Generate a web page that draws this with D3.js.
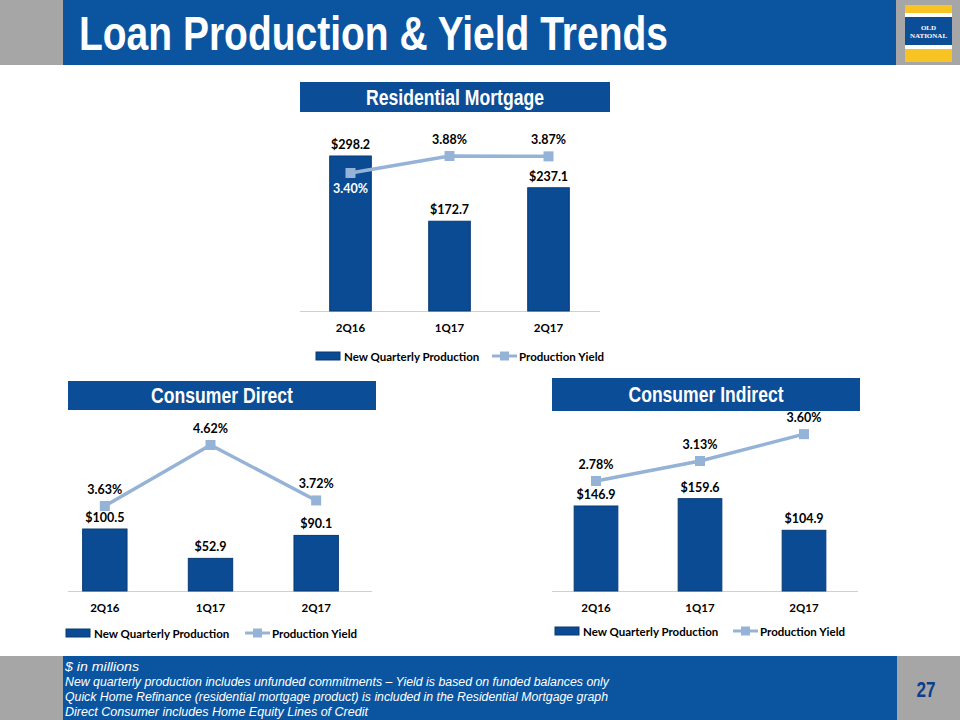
<!DOCTYPE html>
<html><head><meta charset="utf-8">
<script src="https://cdn.jsdelivr.net/npm/d3@7"></script>
<style>
html,body{margin:0;padding:0;background:#fff;}
svg{display:block;}
</style></head>
<body>
<svg id="chart" width="960" height="720"></svg>
<script>
// ---- data ----
const quarters = ["2Q16", "1Q17", "2Q17"];
const resProduction = [298.2, 172.7, 237.1];
const resYield = [3.40, 3.88, 3.87];
const directProduction = [100.5, 52.9, 90.1];
const directYield = [3.63, 4.62, 3.72];
const indirectProduction = [146.9, 159.6, 104.9];
const indirectYield = [2.78, 3.13, 3.60];
const panelTitles = ["Residential Mortgage", "Consumer Direct", "Consumer Indirect"];
const legendLabels = ["New Quarterly Production", "Production Yield"];
const pageTitle = "Loan Production & Yield Trends";
const footnotes = [
  "$ in millions",
  "New quarterly production includes unfunded commitments \u2013 Yield is based on funded balances only",
  "Quick Home Refinance (residential mortgage product) is included in the Residential Mortgage graph",
  "Direct Consumer includes Home Equity Lines of Credit"
];
const pageNumber = "27";

const svg = d3.select("#chart");
const BLUE = "#0b55a0", GRAY = "#a6a6a6", BAR = "#0a4b94", BARSTROKE = "#083a73", LINE = "#95b3d7";
const cond = "'Liberation Sans Narrow','Arial Narrow','Liberation Sans',Arial,sans-serif";
const lab = "Lato,'Open Sans',sans-serif";

// ---- header ----
svg.append("rect").attr("x",0).attr("y",0).attr("width",960).attr("height",65).attr("fill",GRAY);
svg.append("rect").attr("x",63).attr("y",0).attr("width",833).attr("height",65).attr("fill",BLUE);
svg.append("text").attr("x",79).attr("y",50).text(pageTitle)
  .attr("textLength",589).attr("lengthAdjust","spacingAndGlyphs")
  .attr("fill","#fff").attr("font-family",cond).attr("font-weight","bold").attr("font-size",48);
// logo
const lg = svg.append("g");
lg.append("rect").attr("x",905).attr("y",5).attr("width",47).attr("height",57).attr("fill","#f8c423");
lg.append("rect").attr("x",905).attr("y",13).attr("width",47).attr("height",4).attr("fill","#fff");
lg.append("rect").attr("x",905).attr("y",45).attr("width",47).attr("height",4).attr("fill","#fff");
lg.append("rect").attr("x",905).attr("y",17).attr("width",47).attr("height",28).attr("fill","#0b4d96");
lg.append("text").attr("x",928.5).attr("y",30).attr("text-anchor","middle").text("OLD")
  .attr("fill","#fff").attr("font-family","'Liberation Serif',serif").attr("font-size",7).attr("font-weight","bold");
lg.append("text").attr("x",928.5).attr("y",38).attr("text-anchor","middle").text("NATIONAL")
  .attr("fill","#fff").attr("font-family","'Liberation Serif',serif").attr("font-size",7).attr("font-weight","bold");

// ---- footer ----
svg.append("rect").attr("x",0).attr("y",656).attr("width",960).attr("height",64).attr("fill",GRAY);
svg.append("rect").attr("x",63).attr("y",656).attr("width",834).attr("height",64).attr("fill",BLUE);
const footW = [74, 544, 543, 303];
footnotes.forEach((t,i)=>{
  svg.append("text").attr("x",65).attr("y",671+i*15).text(t)
    .attr("textLength",footW[i]).attr("lengthAdjust","spacingAndGlyphs")
    .attr("fill","#fff").attr("font-family",cond).attr("font-style","italic").attr("font-size",12.5);
});
svg.append("text").attr("x",926).attr("y",697).attr("text-anchor","middle").text(pageNumber)
  .attr("textLength",19).attr("lengthAdjust","spacingAndGlyphs")
  .attr("fill","#0b3f8a").attr("font-family",cond).attr("font-weight","bold").attr("font-size",22);

// ---- panels ----
function panel(cfg){
  const g = svg.append("g");
  // title box
  g.append("rect").attr("x",cfg.tb[0]).attr("y",cfg.tb[1]).attr("width",cfg.tb[2]).attr("height",cfg.tb[3]).attr("fill","#0b4d96");
  g.append("text").attr("x",cfg.tb[0]+cfg.tb[2]/2 - cfg.tw/2).attr("y",cfg.tb[1]+cfg.tb[3]/2+7.5)
    .attr("textLength",cfg.tw).attr("lengthAdjust","spacingAndGlyphs")
    .text(cfg.title).attr("fill","#fff").attr("font-family",cond).attr("font-weight","bold").attr("font-size",21.5);

  const x = d3.scaleBand().domain(quarters).range(cfg.xr).paddingInner(0.58).paddingOuter(0.29);
  const y = d3.scaleLinear().domain([0, cfg.pmax]).range([cfg.base, cfg.ptop]);
  const y2 = d3.scaleLinear().domain(cfg.ydom).range(cfg.yrange);

  // axis line
  g.append("line").attr("x1",cfg.axis[0]).attr("x2",cfg.axis[1]).attr("y1",cfg.base+0.5).attr("y2",cfg.base+0.5)
    .attr("stroke","#d0d0d0").attr("stroke-width",1);

  g.selectAll(".bar").data(cfg.prod).join("rect")
    .attr("x",(d,i)=>x(quarters[i])).attr("width",x.bandwidth())
    .attr("y",d=>y(d)).attr("height",d=>cfg.base-y(d))
    .attr("fill",BAR).attr("stroke",BARSTROKE).attr("stroke-width",1);

  // x labels
  const xa = g.append("g").attr("transform",`translate(0,${cfg.base})`)
    .call(d3.axisBottom(x).tickSize(0).tickPadding(13));
  xa.select(".domain").remove();
  xa.selectAll("text").attr("font-family",lab).attr("font-weight","bold").attr("font-size",11.5).attr("fill","#000");

  // line
  const cx = (i)=>x(quarters[i])+x.bandwidth()/2;
  g.append("path").datum(cfg.yld)
    .attr("d", d3.line().x((d,i)=>cx(i)).y(d=>y2(d)))
    .attr("fill","none").attr("stroke",LINE).attr("stroke-width",3.5);
  g.selectAll(".mk").data(cfg.yld).join("rect")
    .attr("x",(d,i)=>cx(i)-5).attr("y",d=>y2(d)-5).attr("width",10).attr("height",10).attr("fill",LINE);

  // bar labels
  g.selectAll(".bl").data(cfg.prod).join("text")
    .attr("x",(d,i)=>cx(i)).attr("y",d=>y(d)-7).attr("text-anchor","middle")
    .text(d=>"$"+d.toFixed(1))
    .attr("font-family",lab).attr("font-weight","bold").attr("font-size",12.5).attr("fill","#000");
  // yield labels
  g.selectAll(".yl").data(cfg.yld).join("text")
    .attr("x",(d,i)=>cx(i)).attr("y",(d,i)=>cfg.yBelow[i] ? y2(d)+20 : y2(d)-12).attr("text-anchor","middle")
    .text(d=>d.toFixed(2)+"%")
    .attr("font-family",lab).attr("font-weight","bold").attr("font-size",12.5)
    .attr("fill",(d,i)=>cfg.yBelow[i] ? "#fff" : "#000");

  // legend
  const L = g.append("g").attr("transform",`translate(${cfg.leg[0]},${cfg.leg[1]})`);
  L.append("rect").attr("x",0).attr("y",-4).attr("width",24).attr("height",8).attr("fill",BAR).attr("stroke",BARSTROKE);
  L.append("text").attr("x",28).attr("y",4.5).text(legendLabels[0])
    .attr("font-family",lab).attr("font-weight","bold").attr("font-size",11.5).attr("fill","#000");
  L.append("line").attr("x1",cfg.leg[2]).attr("x2",cfg.leg[2]+25).attr("y1",0).attr("y2",0).attr("stroke",LINE).attr("stroke-width",3);
  L.append("rect").attr("x",cfg.leg[2]+8).attr("y",-4.5).attr("width",9).attr("height",9).attr("fill",LINE);
  L.append("text").attr("x",cfg.leg[2]+27).attr("y",4.5).text(legendLabels[1])
    .attr("font-family",lab).attr("font-weight","bold").attr("font-size",11.5).attr("fill","#000");
}

panel({title:panelTitles[0], tb:[300,82,310,30], tw:178, xr:[301,598], base:311, pmax:298.2, ptop:156,
  prod:resProduction, yld:resYield, ydom:[3.40,3.88], yrange:[173,156], yBelow:[true,false,false],
  axis:[300,600], leg:[316,356,176]});
panel({title:panelTitles[1], tb:[68,381,308,29], tw:142, xr:[52,369], base:591, pmax:100.5, ptop:529,
  prod:directProduction, yld:directYield, ydom:[3.63,4.62], yrange:[506,445], yBelow:[false,false,false],
  axis:[68,372], leg:[66,633,179]});
panel({title:panelTitles[2], tb:[552,378,308,33], tw:155, xr:[544,856], base:591, pmax:146.9, ptop:506,
  prod:indirectProduction, yld:indirectYield, ydom:[2.78,3.13], yrange:[481,461], yBelow:[false,false,false],
  axis:[552,858], leg:[555,631,178]});
</script>
</body></html>
